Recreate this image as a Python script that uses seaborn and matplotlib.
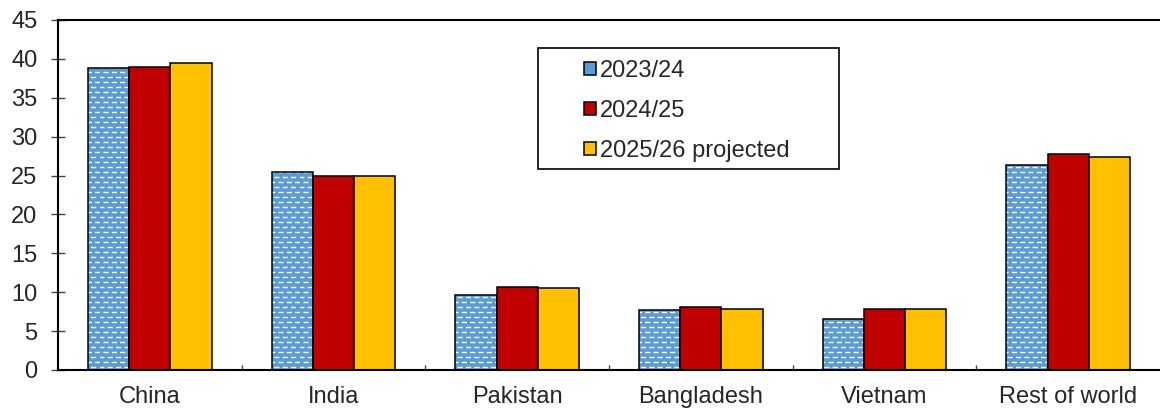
import numpy as np
import pandas as pd
import matplotlib
matplotlib.use("Agg")
import matplotlib.pyplot as plt
import matplotlib.hatch as mhatch
from matplotlib.path import Path
from matplotlib.patches import Rectangle
from matplotlib.colors import to_rgba
import matplotlib.ticker as mticker
import seaborn as sns


COUNTRIES = ["China", "India", "Pakistan", "Bangladesh", "Vietnam", "Rest of world"]
SEASONS = ["2023/24", "2024/25", "2025/26 projected"]
VALUES_2324 = [38.8, 25.4, 9.6, 7.7, 6.5, 26.4]
VALUES_2425 = [39.0, 25.0, 10.7, 8.1, 7.9, 27.8]
VALUES_2526 = [39.5, 25.0, 10.5, 7.9, 7.9, 27.4]
Y_TICKS = list(range(0, 46, 5))
COLORS = ["#5B9BD5", "#C00000", "#FFC000"]

FONT_SIZE = 17
W, H = 1160, 408


# short white dashes in a brick layout, like the Excel pattern fill
class DashHatch(mhatch.HatchPatternBase):
    ROWS = 20
    COLS = 12

    def __init__(self, hatch, density):
        self.num_vertices = self.ROWS * self.COLS * 2 if "." in hatch else 0

    def set_vertices_and_codes(self, vertices, codes):
        step = 1.0 / self.COLS
        k = 0
        for r in range(self.ROWS):
            y = (r + 0.5) / self.ROWS
            shift = 0.5 * step if r % 2 else 0.0
            for c in range(self.COLS):
                x0 = c * step + shift
                vertices[k] = (x0, y)
                vertices[k + 1] = (x0 + 0.45 * step, y)
                codes[k] = Path.MOVETO
                codes[k + 1] = Path.LINETO
                k += 2


mhatch._hatch_types = [t for t in mhatch._hatch_types
                       if t is not mhatch.SmallFilledCircles] + [DashHatch]

sns.set_style("white")
plt.rcParams["font.family"] = ["Liberation Sans", "DejaVu Sans"]
plt.rcParams["hatch.linewidth"] = 1.0

df = pd.DataFrame({
    "country": COUNTRIES * 3,
    "season": np.repeat(SEASONS, len(COUNTRIES)),
    "value": VALUES_2324 + VALUES_2425 + VALUES_2526,
})

fig = plt.figure(figsize=(W / 100, H / 100), dpi=100)
ax = fig.add_axes([58 / W, 1 - 370 / H, 1 - 58 / W, 350 / H])

sns.barplot(data=df, x="country", y="value", hue="season", palette=COLORS,
            width=0.675, gap=0, edgecolor="black", linewidth=1.1,
            saturation=1, ax=ax)

for bar in ax.containers[0]:
    bar.set_hatch(".")
    bar._hatch_color = to_rgba("white")

handles, labels = ax.get_legend_handles_labels()
ax.get_legend().remove()

ax.set_ylim(0, 45)
ax.set_xlim(-0.5, len(COUNTRIES) - 0.5)
ax.set_yticks(Y_TICKS)
ax.set_xlabel("")
ax.set_ylabel("")

for side in ["left", "bottom", "top"]:
    ax.spines[side].set_linewidth(1.5)
    ax.spines[side].set_color("black")
ax.spines["right"].set_visible(False)

ax.tick_params(axis="y", direction="inout", length=9.5, width=1.0,
               color="#444444", labelsize=FONT_SIZE, pad=10, left=True)
ax.tick_params(axis="x", which="major", length=0, labelsize=FONT_SIZE, pad=11.5)
ax.xaxis.set_minor_locator(mticker.FixedLocator(np.arange(0.5, len(COUNTRIES) - 1, 1.0)))
ax.tick_params(axis="x", which="minor", direction="in", length=3.6, width=1.0,
               color="#444444", bottom=True)

ax.legend(handles, labels, loc="upper left",
          bbox_to_anchor=(584 / W, 1 - 60 / H), bbox_transform=fig.transFigure,
          frameon=False, borderpad=0, borderaxespad=0,
          handlelength=0.5, handleheight=0.5, handletextpad=0.17,
          labelspacing=0.76, fontsize=FONT_SIZE)

fig.add_artist(Rectangle((538 / W, 1 - 169 / H), 301 / W, 121 / H,
                         transform=fig.transFigure, fill=False,
                         edgecolor="black", linewidth=1.2))

fig.savefig("out.png", dpi=100)
plt.close(fig)
